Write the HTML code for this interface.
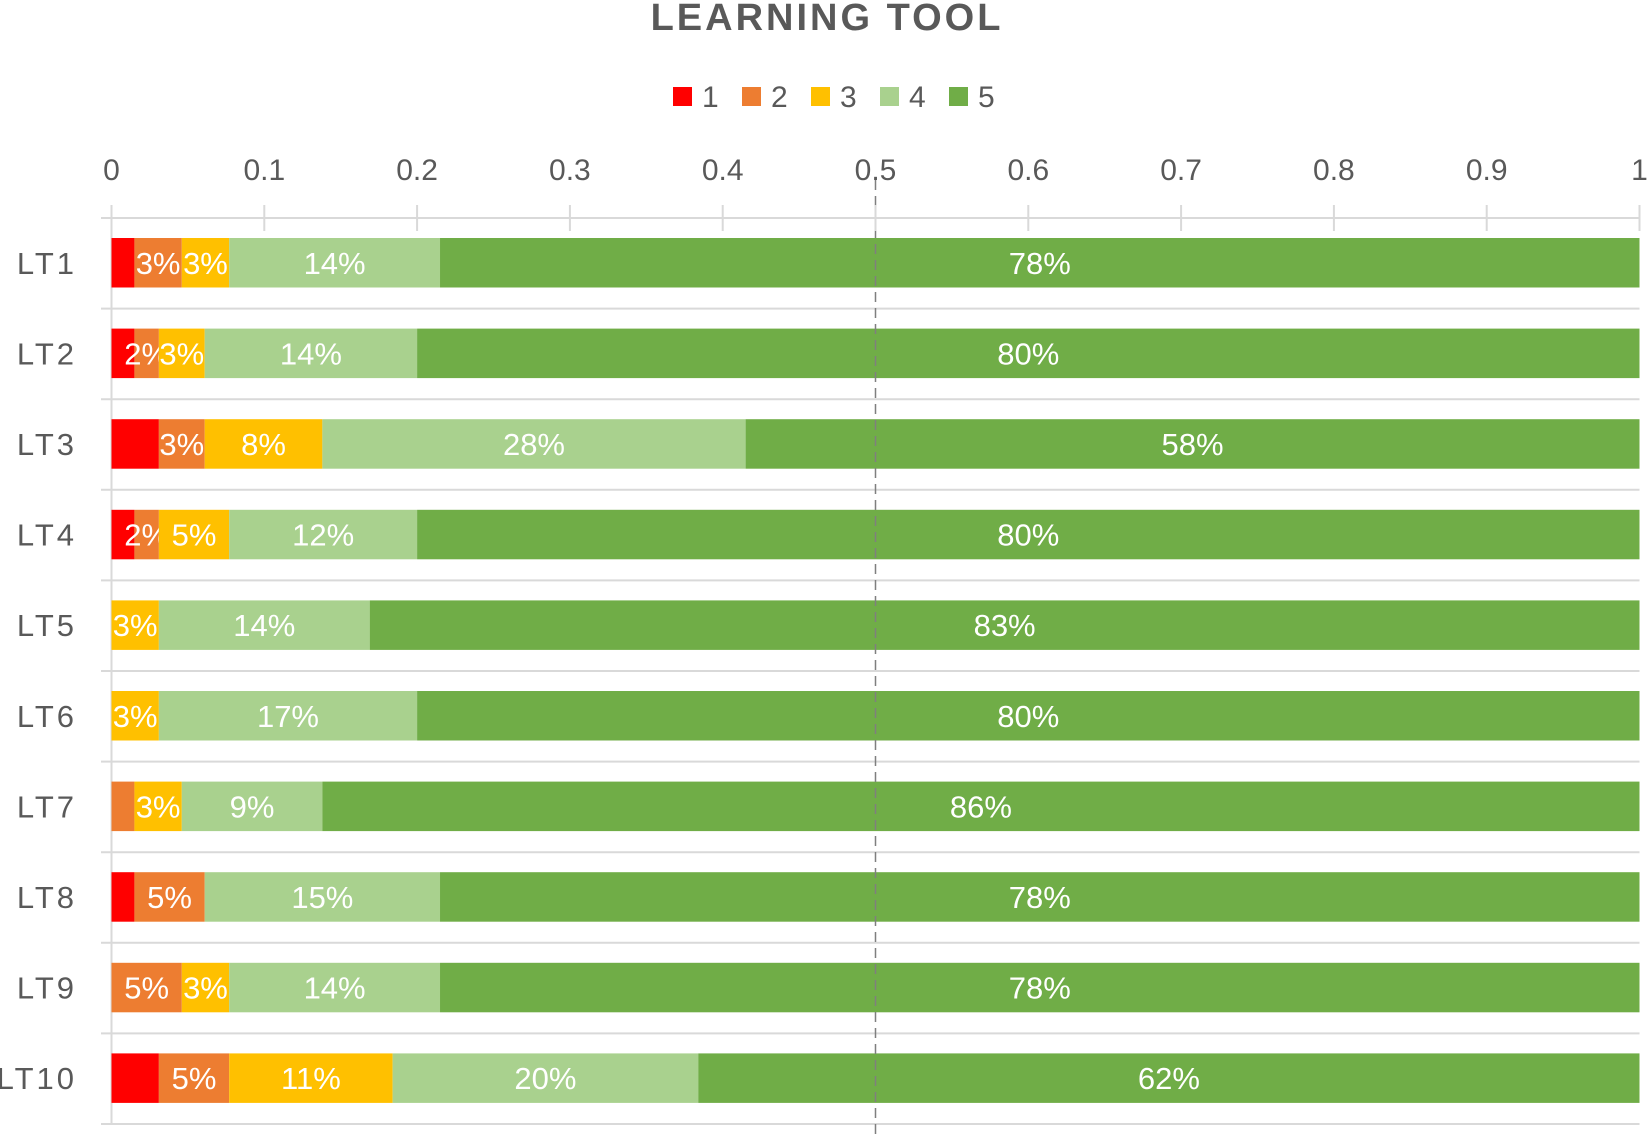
<!DOCTYPE html>
<html><head><meta charset="utf-8"><style>
body{margin:0;background:#fff;}
svg{display:block;font-family:"Liberation Sans",sans-serif;}
</style></head><body>
<svg id="chart" width="1650" height="1138" viewBox="0 0 1650 1138">
<text x="827" y="30" text-anchor="middle" font-size="38" font-weight="bold" fill="#595959" letter-spacing="3">LEARNING TOOL</text>
<g id="legend"></g>
<g id="grid"></g>
<g id="bars"></g>
<g id="axis"></g>
<g id="ylabels"></g>
</svg>
<script>
const categories=["LT1","LT2","LT3","LT4","LT5","LT6","LT7","LT8","LT9","LT10"];
const seriesNames=["1","2","3","4","5"];
const s1=[1.5,1.5,3.1,1.5,0,0,0,1.5,0,3.1];
const s2=[3.1,1.6,3.0,1.6,0,0,1.5,4.6,4.6,4.6];
const s3=[3.1,3.0,7.7,4.6,3.1,3.1,3.1,0,3.1,10.7];
const s4=[13.8,13.9,27.7,12.3,13.8,16.9,9.2,15.4,13.8,20.0];
const s5=[78.5,80.0,58.5,80.0,83.1,80.0,86.2,78.5,78.5,61.6];
const l1=["","","","","","","","","",""];
const l2=["3%","2%","3%","2%","","","","5%","5%","5%"];
const l3=["3%","3%","8%","5%","3%","3%","3%","","3%","11%"];
const l4=["14%","14%","28%","12%","14%","17%","9%","15%","14%","20%"];
const l5=["78%","80%","58%","80%","83%","80%","86%","78%","78%","62%"];
const ticks=[0,0.1,0.2,0.3,0.4,0.5,0.6,0.7,0.8,0.9,1];
const tickLabels=["0","0.1","0.2","0.3","0.4","0.5","0.6","0.7","0.8","0.9","1"];
const colors=["#FF0000","#ED7D31","#FFC000","#A9D18E","#70AD47"];
const X0=111.5,X1=1639.5,AY=218,BAND=90.6,BOFF=20,BH=49.5;
const xs=v=>X0+(X1-X0)*v;
const NS="http://www.w3.org/2000/svg";
function mk(t,a,p){const e=document.createElementNS(NS,t);for(const k in a)e.setAttribute(k,a[k]);p.appendChild(e);return e;}
const grid=document.getElementById('grid'),bars=document.getElementById('bars'),axis=document.getElementById('axis'),yl=document.getElementById('ylabels'),lg=document.getElementById('legend');
seriesNames.forEach((n,i)=>{
 const x=673+i*69;
 const r=mk('rect',{x:x,y:87,width:19,height:19,fill:colors[i]},lg);
 
 
 const t=mk('text',{x:x+29,y:107,'font-size':30,fill:'#595959'},lg);t.textContent=n;
 
 
});
mk('line',{x1:101,x2:X1,y1:AY,y2:AY,stroke:'#D9D9D9','stroke-width':2},axis);
ticks.forEach((v,i)=>{
 mk('line',{x1:xs(v),x2:xs(v),y1:205,y2:231,stroke:'#D9D9D9','stroke-width':2},axis);
 const t=mk('text',{x:xs(v),y:180,'text-anchor':'middle','font-size':30,fill:'#595959'},axis);t.textContent=tickLabels[i];
 
 
});
mk('line',{x1:X0,x2:X0,y1:AY,y2:AY+BAND*categories.length,stroke:'#D9D9D9','stroke-width':2},grid);
categories.forEach((c,i)=>{
 const yb=AY+BAND*(i+1);
 mk('line',{x1:101,x2:X1,y1:yb,y2:yb,stroke:'#D9D9D9','stroke-width':2},grid);
});
const series=[s1,s2,s3,s4,s5],labels=[l1,l2,l3,l4,l5];
categories.forEach((c,i)=>{
 const y=AY+BAND*i+BOFF;
 let acc=0;
 series.forEach((s,k)=>{
  const v=s[i]/100;
  if(v>0){
   const r=mk('rect',{x:xs(acc),y:y,width:xs(acc+v)-xs(acc),height:BH,fill:colors[k]},bars);
   
   
   if(labels[k][i]){
    const t=mk('text',{x:(xs(acc)+xs(acc+v))/2,y:y+BH/2+11,'text-anchor':'middle','font-size':31,fill:'#fff'},bars);
    t.textContent=labels[k][i];
    
    
   }
  }
  acc+=v;
 });
 const t=mk('text',{x:77,y:y+BH/2+11,'text-anchor':'end','font-size':31,fill:'#595959','letter-spacing':3},yl);
 t.textContent=c;
 
 
});
const d=mk('line',{x1:xs(0.5),x2:xs(0.5),y1:180,y2:1138,stroke:'#7F7F7F','stroke-width':1.5,'stroke-dasharray':'10,6'},bars);


</script>
</body></html>
